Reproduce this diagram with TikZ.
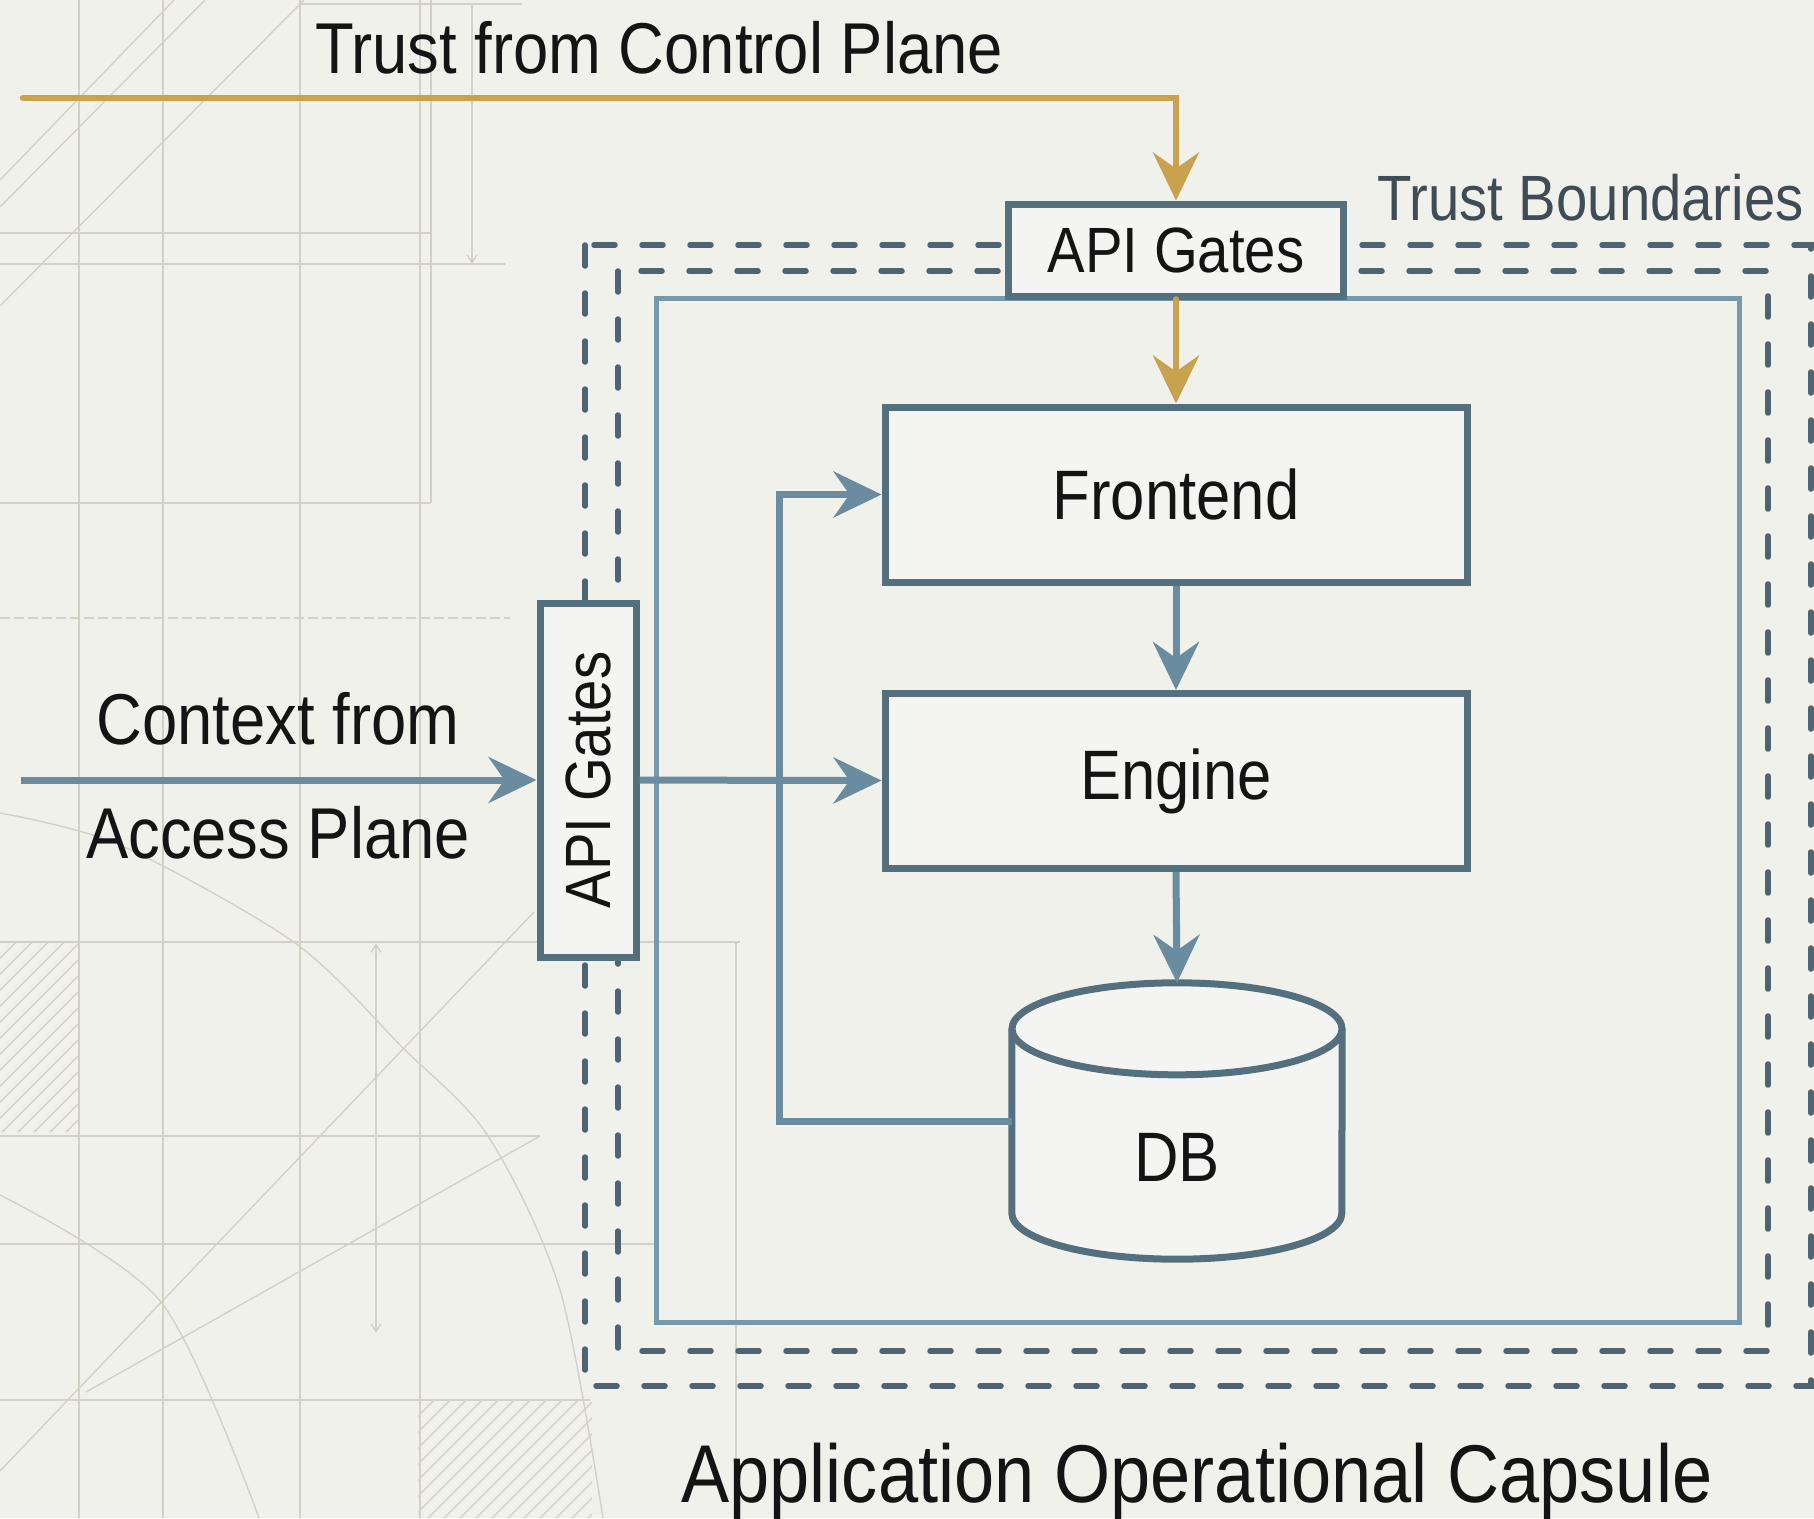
\documentclass[tikz,border=0pt]{standalone}
\usepackage{fontspec}
\setmainfont{Liberation Sans}[FakeStretch=0.88]
\usetikzlibrary{arrows.meta,calc}

\definecolor{paper}{HTML}{F1F1EB}
\definecolor{sketch}{HTML}{D3D0C6}
\definecolor{boxc}{HTML}{54707F}
\definecolor{boxfill}{HTML}{F4F5F3}
\definecolor{flowc}{HTML}{6A8CA1}
\definecolor{goldc}{HTML}{C9A24F}
\definecolor{dashc}{HTML}{4E6473}
\definecolor{capc}{HTML}{7899AC}
\definecolor{ink}{HTML}{141414}
\definecolor{tbc}{HTML}{3F4C56}

\tikzset{
  sketchline/.style={draw=sketch, line width=1.4pt},
  compbox/.style={draw=boxc, line width=7pt, fill=boxfill, minimum width=582pt,
    minimum height=175pt, inner sep=0pt, text=ink, font=\fontsize{70}{84}\selectfont},
  gatebox/.style={draw=boxc, line width=7pt, fill=boxfill, inner sep=0pt, text=ink,
    font=\fontsize{64}{76}\selectfont},
  label/.style={text=ink, inner sep=0pt},
  flow/.style={draw=flowc, line width=7pt, -{Stealth[length=48pt,width=46pt,inset=16pt]}},
  trustflow/.style={draw=goldc, line width=6.5pt, line cap=round,
    -{Stealth[length=48pt,width=46pt,inset=16pt]}},
  boundary/.style={draw=dashc, line width=5.5pt, line cap=round, dash pattern=on 21pt off 27pt},
  capsule/.style={draw=capc, line width=5pt},
  dbline/.style={draw=boxc, line width=7pt}
}

\begin{document}
\begin{tikzpicture}[x=1pt,y=-1pt]
% paper
\fill[paper] (0,0) rectangle (1814,1518);
\useasboundingbox (0,0) rectangle (1814,1518);

% faint drafting sketch behind the diagram
\begin{scope}[sketchline]
  \foreach \x in {79,163,300,420} \draw (\x,0) -- (\x,1518);
  \draw (431,0) -- (431,503);
  \draw (0,233) -- (431,233);
  \draw (0,264) -- (505,264);
  \draw (0,503) -- (431,503);
  \draw (300,4) -- (522,4);
  \draw[-{Straight Barb[length=8pt,width=10pt]}] (472,4) -- (472,264);
  \draw (174,0) -- (0,180);
  \draw (205,0) -- (0,207);
  \draw (304,0) -- (0,306);
  \draw[dash pattern=on 10pt off 4pt] (0,618) -- (510,618);
  \draw (0,942) -- (740,942);
  \draw (0,1136) -- (540,1136);
  \draw (0,1244) -- (655,1244);
  \draw (0,1400) -- (590,1400);
  \draw (736,941) -- (736,1518);
  \draw[{Straight Barb[length=8pt,width=10pt]}-{Straight Barb[length=8pt,width=10pt]}] (376,943) -- (376,1333);
  \draw plot[smooth] coordinates {(0,813) (120,845) (295,943) (402,1047) (488,1136) (560,1290) (603,1518)};
  \draw plot[smooth] coordinates {(0,1195) (161,1302) (259,1518)};
  \draw (540,1136) -- (86,1392);
  \draw (534,912) -- (0,1471);
  \begin{scope}
    \clip (0,942) rectangle (78,1132);
    \foreach \k in {0,16,...,320} \draw (\k,942) -- (\k-190,1132);
  \end{scope}
  \begin{scope}
    \clip (418,1400) rectangle (592,1518);
    \foreach \k in {418,434,...,740} \draw (\k,1400) -- (\k-118,1518);
  \end{scope}
\end{scope}

% trust boundaries and capsule
\draw[boundary] (585,245) rectangle (1811,1386);
\draw[boundary] (618,271) rectangle (1768,1351);
\draw[capsule] (656,298) rectangle (1739,1322);

% components
\node[compbox] (fe) at (1176,494.5) {Frontend};
\node[compbox] (eng) at (1176,781) {Engine};
\node[minimum width=330pt, minimum height=276pt, inner sep=0pt] (db) at (1177,1121) {};
\fill[boxfill] ($(db.north west)+(0,46)$) -- ($(db.south west)+(0,-46)$)
  arc[start angle=180, end angle=0, x radius=165, y radius=46]
  -- ($(db.north east)+(0,46)$) -- cycle;
\draw[dbline] ($(db.north west)+(0,46)$) -- ($(db.south west)+(0,-46)$)
  arc[start angle=180, end angle=0, x radius=165, y radius=46]
  -- ($(db.north east)+(0,46)$);
\draw[dbline, fill=boxfill] ($(db.north)+(0,46)$) ellipse[x radius=165, y radius=46];
\node[label, font=\fontsize{70}{84}\selectfont] (dbtext) at ($(db.center)+(0,36)$) {DB};

% API gates
\node[gatebox, minimum width=335pt, minimum height=92pt] (apit) at (1176,250) {API Gates};
\node[gatebox, rotate=90, minimum width=354pt, minimum height=96pt] (apil) at (588,780) {API Gates};

% texts
\node[label, anchor=base, font=\fontsize{72}{86}\selectfont] (title) at (659,73) {Trust from Control Plane};
\node[label, anchor=base east, text=tbc, font=\fontsize{64}{76}\selectfont] (tb) at (1804,220) {Trust Boundaries};
\node[label, anchor=base, font=\fontsize{72}{86}\selectfont] (ctx1) at (278,744) {Context from};
\node[label, anchor=base, font=\fontsize{72}{86}\selectfont] (ctx2) at (278,858) {Access Plane};
\node[label, anchor=base, font=\fontsize{82}{98}\selectfont] (caps) at (1197,1502) {Application Operational Capsule};

% connectors
\coordinate (goldin) at (23,98);
\coordinate (ctxin) at (21,780);
\coordinate (loopx) at (779,0);
\draw[trustflow] (goldin) -| (apit.north);
\draw[trustflow] (apit) -- (fe);
\draw[flow] (ctxin) -- (apil);
\draw[flow] (apil) -- (eng);
\draw[flow] (fe) -- (eng);
\draw[flow] (eng.south) -- (db.north);
\draw[flow] (db.west) -- (db.west -| loopx) -- (fe.west -| loopx) -- (fe.west);
\end{tikzpicture}
\end{document}
